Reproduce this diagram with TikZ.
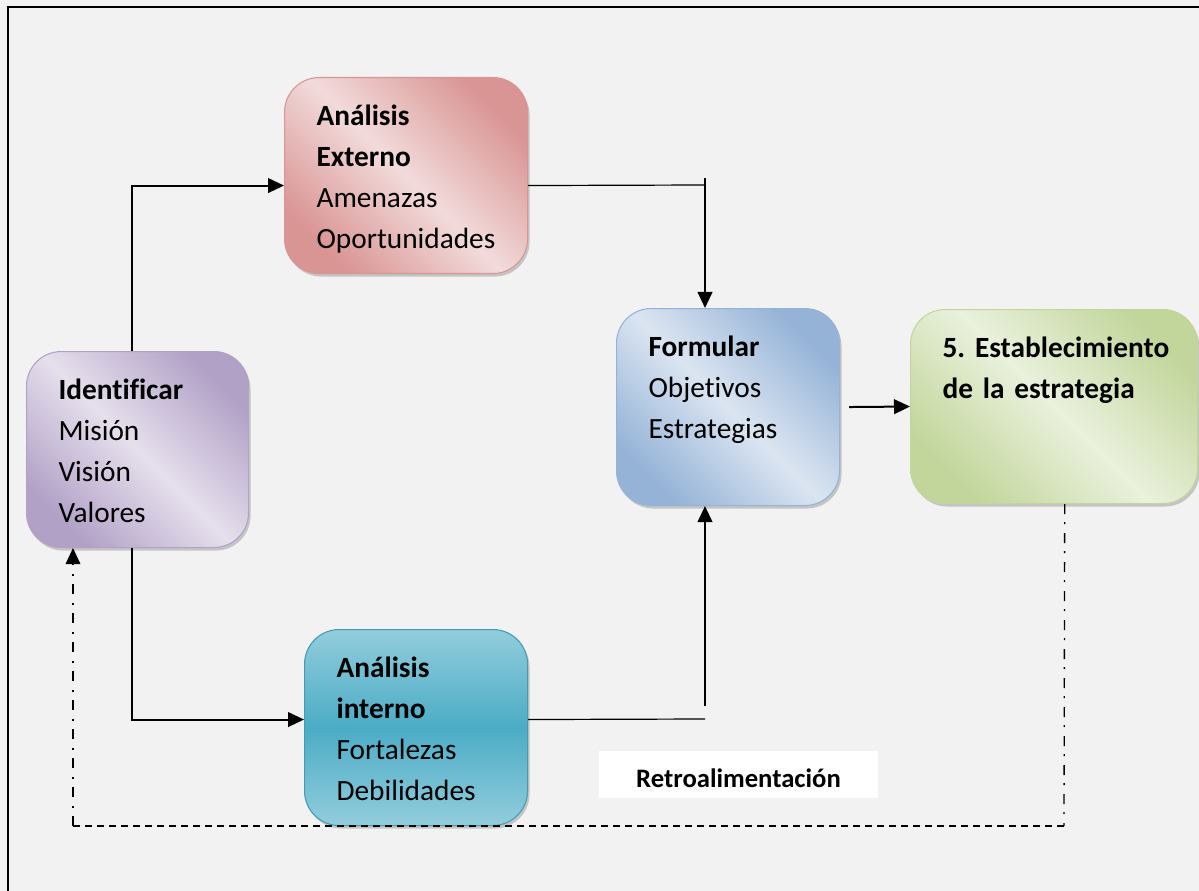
\documentclass[tikz,border=0pt]{standalone}
\usepackage{fontspec}
\setmainfont{Carlito}[Ligatures=NoCommon]
\usetikzlibrary{arrows.meta,shadows}

\definecolor{fondo}{HTML}{F2F2F2}
\definecolor{rojoA}{HTML}{D99594}
\definecolor{rojoB}{HTML}{F2DBDB}
\definecolor{moradoA}{HTML}{B2A1C7}
\definecolor{moradoB}{HTML}{E5E0EC}
\definecolor{azulA}{HTML}{95B3D7}
\definecolor{azulB}{HTML}{DBE5F1}
\definecolor{verdeA}{HTML}{C2D69B}
\definecolor{verdeB}{HTML}{EAF1DD}
\definecolor{aguaA}{HTML}{92CDDC}
\definecolor{aguaB}{HTML}{4BACC6}

\begin{document}
\begin{tikzpicture}[x=0.75pt, y=-0.75pt,
	caja/.style={rounded corners=26pt, inner xsep=24pt, inner ysep=0pt, anchor=north west,
		align=left, text height=36pt, font=\fontsize{22}{30.75}\selectfont\frenchspacing\hyphenpenalty 10000\relax,
		drop shadow={shadow xshift=1.5pt, shadow yshift=-2.25pt, opacity=0.4}},
	diagonal/.style 2 args={draw=#1, line width=0.8pt, top color=#1, bottom color=#1, middle color=#2, shading angle=-45},
	flecha/.style={line width=1.5pt, -{Triangle[length=12pt,width=11pt]}},
	delgada/.style={line width=0.9pt},
	punteo/.style={line width=1pt, dash pattern=on 7.5pt off 6pt on 1.5pt off 6.75pt},
	guion/.style={line width=1pt, dash pattern=on 5pt off 4pt}]

	\useasboundingbox (0,0) rectangle (1199,891);
	\clip (0,0) rectangle (1199,891);
	\fill[fondo] (0,0) rectangle (1199,891);
	\draw[line width=1.5pt] (8,7) rectangle (1220,910);

	\node[caja, diagonal={moradoA}{moradoB}, text width=118.5pt, text depth=111pt] (ident) at (26,351)
		{\textbf{Identificar}\\Misión\\Visión\\Valores};
	\node[caja, diagonal={rojoA}{rojoB}, text width=134.25pt, text depth=111pt] (ext) at (284,77)
		{\textbf{Análisis}\\\textbf{Externo}\\Amenazas\\Oportunidades};
	\node[caja, draw=aguaB!90!black, line width=0.8pt, top color=aguaA, bottom color=aguaA, middle color=aguaB,
		text width=119.25pt, text depth=111pt] (int) at (304,629)
		{\textbf{Análisis}\\\textbf{interno}\\Fortalezas\\Debilidades};
	\node[caja, diagonal={azulA}{azulB}, text width=119.25pt, text depth=111.75pt] (form) at (616,308)
		{\textbf{Formular}\\Objetivos\\Estrategias};
	\node[caja, diagonal={verdeA}{verdeB}, text width=167.25pt, text depth=109.5pt] (est) at (910,309)
		{\mbox{\textbf{5. Establecimiento}}\\\mbox{\textbf{de la estrategia}}};

	\node[fill=white, inner sep=0pt, minimum width=209.25pt, text height=27pt, text depth=8.25pt,
		font=\fontsize{20}{24}\selectfont\bfseries] (retro) at (738.5,774.5) {Retroalimentación};

	\draw[flecha] ([xshift=-4.5pt]ident.north) |- ([yshift=-7.5pt]ext.west);
	\draw[flecha] ([xshift=-4.5pt]ident.south) |- ([yshift=6pt]int.west);

	\coordinate (jsup) at (705,185);
	\coordinate (jsupb) at (705,178);
	\draw[delgada] ([yshift=-7.5pt]ext.east) -- (jsup);
	\draw[flecha] (jsupb) -- (jsupb |- form.north);

	\coordinate (jinf) at (705,719);
	\coordinate (jinfb) at (705,706);
	\draw[delgada] ([yshift=6pt]int.east) -- (jinf);
	\draw[flecha] (jinfb) -- (jinfb |- form.south);

	\draw[flecha] ([xshift=6.75pt]form.east) -- (est.west);

	\coordinate (rd) at (1064,826);
	\coordinate (ri) at (73,826);
	\draw[punteo] ([xshift=8pt]est.south) -- (rd);
	\draw[guion] (rd) -- (ri);
	\draw[punteo, -{Triangle[length=12pt,width=11pt]}] (ri) -- (ri |- ident.south);
\end{tikzpicture}
\end{document}
